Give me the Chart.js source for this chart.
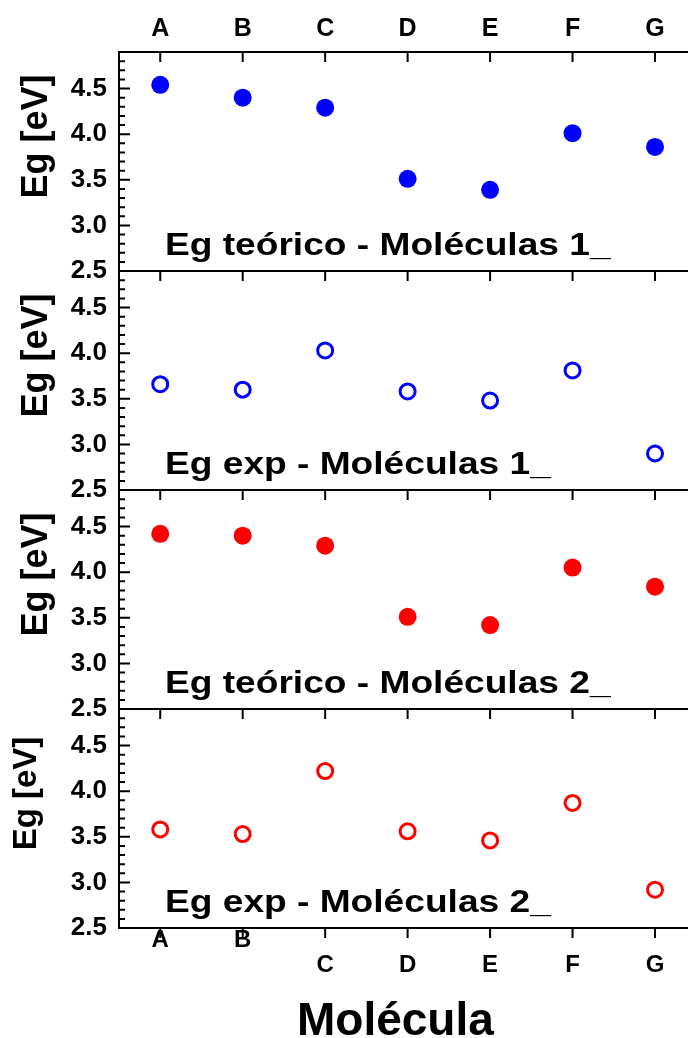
<!DOCTYPE html>
<html>
<head>
<meta charset="utf-8">
<script src="https://cdn.jsdelivr.net/npm/chart.js@4.4.1/dist/chart.umd.min.js"></script>
<style>
html, body { margin: 0; padding: 0; background: #fff; overflow: hidden; }
#wrap { position: relative; width: 688px; height: 1038px; }
#wrap canvas { position: absolute; left: 0; top: 0; }
</style>
</head>
<body>
<div id="wrap">
  <canvas id="panel1" width="688" height="1038"></canvas>
  <canvas id="panel2" width="688" height="1038"></canvas>
  <canvas id="panel3" width="688" height="1038"></canvas>
  <canvas id="panel4" width="688" height="1038"></canvas>
</div>
<script>
//-------------------------- Data --------------------------//
const molecules = ['A', 'B', 'C', 'D', 'E', 'F', 'G'];
const egTeorico1 = [4.54, 4.40, 4.29, 3.51, 3.39, 4.01, 3.86];
const egExp1     = [3.66, 3.60, 4.03, 3.58, 3.48, 3.81, 2.90];
const egTeorico2 = [4.42, 4.40, 4.29, 3.51, 3.42, 4.05, 3.84];
const egExp2     = [3.58, 3.53, 4.22, 3.56, 3.46, 3.87, 2.92];
const panelLabels = ['Eg teórico - Moléculas 1_', 'Eg exp - Moléculas 1_', 'Eg teórico - Moléculas 2_', 'Eg exp - Moléculas 2_'];
const yTitle = 'Eg [eV]';
const xTitle = 'Molécula';
const yMin = 2.5, yMax = 4.9;
//-----------------------------------------------------------//

const FONT = '"Liberation Sans", Arial, Helvetica, sans-serif';
Chart.defaults.font.family = FONT;
Chart.defaults.color = '#000';

// panel edges (top, bottom) in page pixels
const edges = [[52, 271], [271, 490], [490, 709], [709, 928]];

// frame, inward ticks and in-panel texts
const framePlugin = {
  id: 'frame',
  afterDraw(chart, args, opts) {
    const ctx = chart.ctx, a = chart.chartArea;
    const xs = chart.scales.x, ys = chart.scales.y;
    ctx.save();
    ctx.strokeStyle = '#000';
    ctx.lineWidth = 2;
    ctx.beginPath();
    ctx.moveTo(a.right, a.top); ctx.lineTo(a.left, a.top);
    ctx.lineTo(a.left, a.bottom); ctx.lineTo(a.right, a.bottom);
    ctx.stroke();

    ctx.beginPath();
    molecules.forEach((m, i) => {
      const px = xs.getPixelForValue(i);
      ctx.moveTo(px, a.top); ctx.lineTo(px, a.top + 10);
      if (opts.bottomTicks) { ctx.moveTo(px, a.bottom); ctx.lineTo(px, a.bottom + 10); }
    });
    for (let k = 25; k <= 49; k++) {
      const py = ys.getPixelForValue(k / 10);
      const len = (k % 5 === 0) ? 11 : 6;
      ctx.moveTo(a.left, py); ctx.lineTo(a.left + len, py);
    }
    ctx.stroke();

    // panel label
    ctx.fillStyle = '#000';
    ctx.textAlign = 'left';
    ctx.textBaseline = 'alphabetic';
    ctx.font = 'bold 32px ' + FONT;
    ctx.save();
    ctx.translate(165, a.bottom - 16);
    ctx.scale(1.16, 1);
    ctx.fillText(opts.label, 0, 0);
    ctx.restore();

    // y title
    ctx.save();
    ctx.font = 'bold ' + opts.yTitleSize + 'px ' + FONT;
    ctx.translate(opts.yTitleX, (a.top + a.bottom) / 2 - 25);
    ctx.rotate(-Math.PI / 2);
    ctx.textAlign = 'center';
    ctx.textBaseline = 'middle';
    ctx.fillText(yTitle, 0, 0);
    ctx.restore();

    // x title
    if (opts.xTitle) {
      ctx.font = 'bold 46px ' + FONT;
      ctx.textAlign = 'left';
      ctx.textBaseline = 'alphabetic';
      ctx.fillText(xTitle, 297, 1035);
    }
    ctx.restore();
  }
};

function makePanel(id, idx, values, color, filled) {
  const top = edges[idx][0], bottom = edges[idx][1];
  const isFirst = idx === 0, isLast = idx === 3;
  const points = values.map((v, i) => ({x: i, y: v}));
  const config = {
    type: 'scatter',
    data: {
      datasets: [{
        data: points,
        pointStyle: 'circle',
        pointRadius: filled ? 9 : 7.5,
        pointHoverRadius: filled ? 9 : 7.5,
        backgroundColor: filled ? color : 'rgba(0,0,0,0)',
        borderColor: color,
        borderWidth: filled ? 0 : 3,
      }]
    },
    options: {
      responsive: false,
      animation: false,
      events: [],
      layout: {
        autoPadding: false,
        padding: {
          left: 0, right: 0,
          top: isFirst ? 0 : top,
          bottom: isLast ? 0 : 1038 - bottom
        }
      },
      plugins: {
        legend: {display: false},
        tooltip: {enabled: false},
        frame: {
          label: panelLabels[idx],
          bottomTicks: isLast,
          xTitle: isLast,
          yTitleSize: isLast ? 33 : 36,
          yTitleX: isLast ? 27 : 37
        }
      },
      scales: {
        x: {
          type: 'linear',
          display: isFirst || isLast,
          position: isFirst ? 'top' : 'bottom',
          min: -0.5,
          max: 6.4,
          afterBuildTicks: s => { s.ticks = molecules.map((m, i) => ({value: i})); },
          afterFit: s => {
            s.paddingLeft = 0; s.paddingRight = 0;
            if (isFirst) s.height = top;
            else if (isLast) s.height = 1038 - bottom;
          },
          grid: {display: false, drawTicks: false},
          border: {display: false},
          ticks: {
            autoSkip: false,
            maxRotation: 0,
            padding: isFirst ? 8 : 0,
            font: isFirst ? {size: 25, weight: 'bold'} : {size: 24, weight: 'bold', lineHeight: 25 / 24},
            callback: (v) => {
              const m = molecules[Math.round(v)];
              if (isLast && Math.round(v) >= 2) return ['', m];
              return m;
            }
          }
        },
        y: {
          type: 'linear',
          min: yMin,
          max: yMax,
          afterFit: s => { s.width = 119; s.paddingTop = 0; s.paddingBottom = 0; },
          grid: {display: false, drawTicks: false},
          border: {display: false},
          ticks: {
            stepSize: 0.1,
            autoSkip: false,
            padding: 12,
            font: {size: 26, weight: 'bold'},
            callback: (v) => {
              const r = Math.round(v * 10);
              return (r % 5 === 0) ? (r / 10).toFixed(1) : '';
            }
          }
        }
      }
    },
    plugins: [framePlugin]
  };
  return new Chart(document.getElementById(id), config);
}

const chartTeo1 = makePanel('panel1', 0, egTeorico1, '#0000ff', true);
const chartExp1 = makePanel('panel2', 1, egExp1, '#0000ff', false);
const chartTeo2 = makePanel('panel3', 2, egTeorico2, '#ff0000', true);
const chartExp2 = makePanel('panel4', 3, egExp2, '#ff0000', false);
</script>
</body>
</html>
